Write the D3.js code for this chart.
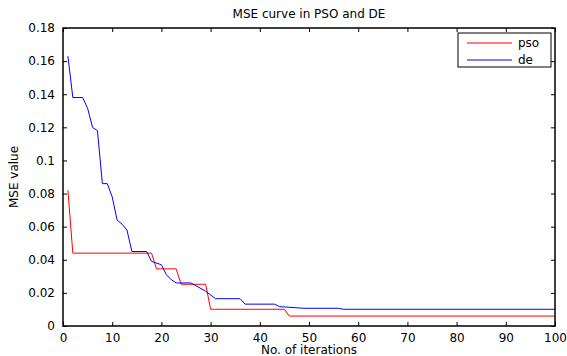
<!DOCTYPE html>
<html>
<head>
<meta charset="utf-8">
<script src="https://cdn.jsdelivr.net/npm/d3@7"></script>
<style>
  body { margin: 0; background: #fff; }
  svg text { font-family: "DejaVu Sans", sans-serif; fill: #000; }
</style>
</head>
<body>
<svg id="chart" width="567" height="356"></svg>
<script>
// breakpoints
var psoIter = [1, 2, 18, 19, 23, 24, 29, 30, 45, 46, 100];
var psoMse = [0.082, 0.044, 0.044, 0.0345, 0.0345, 0.0252, 0.0252, 0.0101, 0.0101, 0.006, 0.006];

var deIter = [1, 2, 4, 5, 6, 7, 8, 9, 10, 11, 12, 13, 14, 17, 18, 20, 21, 22, 23, 26, 29, 31, 36, 37, 43, 44, 49, 56, 57, 100];
var deMse = [0.163, 0.138, 0.138, 0.1315, 0.12, 0.118, 0.086, 0.086, 0.078, 0.064, 0.0615, 0.058, 0.045, 0.045, 0.039, 0.037, 0.031, 0.028, 0.026, 0.026, 0.021, 0.0165, 0.0165, 0.0132, 0.0132, 0.0117, 0.0107, 0.0107, 0.0101, 0.0101];

var xTicks = [0, 10, 20, 30, 40, 50, 60, 70, 80, 90, 100];
var yTicks = [0, 0.02, 0.04, 0.06, 0.08, 0.1, 0.12, 0.14, 0.16, 0.18];

var series = [
  { name: "pso", color: "#ff0000", values: psoIter.map((d, i) => ({ it: d, v: psoMse[i] })) },
  { name: "de", color: "#0000ff", values: deIter.map((d, i) => ({ it: d, v: deMse[i] })) }
];

var svg = d3.select("#chart"),
  margin = { top: 28, right: 12, bottom: 30, left: 63 },
  width = +svg.attr("width"),
  height = +svg.attr("height");

var x = d3.scaleLinear().domain([0, 100]).range([margin.left, width - margin.right]);
var y = d3.scaleLinear().domain([0, 0.18]).range([height - margin.bottom, margin.top]);

var fmtY = d => d === 0 ? "0" : String(+d.toFixed(2));

// ticks inside on all 4 sides, matlab style
svg.append("g")
  .attr("transform", "translate(0," + y(0) + ")")
  .call(d3.axisBottom(x).tickValues(xTicks).tickSize(-4).tickPadding(7).tickFormat(d3.format("d")))
  .call(g => g.select(".domain").remove());
svg.append("g")
  .attr("transform", "translate(0," + y(0.18) + ")")
  .call(d3.axisTop(x).tickValues(xTicks).tickSize(-4).tickFormat(""))
  .call(g => g.select(".domain").remove());
svg.append("g")
  .attr("transform", "translate(" + x(0) + ",0)")
  .call(d3.axisLeft(y).tickValues(yTicks).tickSize(-4).tickPadding(8).tickFormat(fmtY))
  .call(g => g.select(".domain").remove());
svg.append("g")
  .attr("transform", "translate(" + x(100) + ",0)")
  .call(d3.axisRight(y).tickValues(yTicks).tickSize(-4).tickFormat(""))
  .call(g => g.select(".domain").remove());

svg.selectAll(".tick text").attr("font-size", 12).style("font-family", "'DejaVu Sans', sans-serif");
svg.selectAll(".tick line").attr("stroke", "#000");

var line = d3.line().x(d => x(d.it)).y(d => y(d.v));

svg.selectAll(".curve")
  .data(series)
  .enter().append("path")
  .attr("class", "curve")
  .attr("fill", "none")
  .attr("stroke", d => d.color)
  .attr("stroke-width", 1)
  .attr("d", d => line(d.values));

// box
svg.append("rect")
  .attr("x", x(0)).attr("y", y(0.18))
  .attr("width", x(100) - x(0)).attr("height", y(0) - y(0.18))
  .attr("fill", "none").attr("stroke", "#000").attr("stroke-width", 1.5);

// titles
svg.append("text").attr("x", (x(0) + x(100)) / 2).attr("y", 18)
  .attr("text-anchor", "middle").attr("font-size", 12).text("MSE curve in PSO and DE");
svg.append("text").attr("x", (x(0) + x(100)) / 2).attr("y", 354)
  .attr("text-anchor", "middle").attr("font-size", 12).text("No. of iterations");
svg.append("text")
  .attr("transform", "translate(18," + (y(0) + y(0.18)) / 2 + ") rotate(-90)")
  .attr("text-anchor", "middle").attr("font-size", 12).text("MSE value");

// legend
var leg = svg.append("g").attr("transform", "translate(458,33)");
leg.append("rect").attr("width", 93).attr("height", 34)
  .attr("fill", "#fff").attr("stroke", "#000").attr("stroke-width", 1);
series.forEach(function (s, i) {
  leg.append("line").attr("x1", 9).attr("x2", 54)
    .attr("y1", 10 + i * 17).attr("y2", 10 + i * 17)
    .attr("stroke", s.color).attr("stroke-width", 1);
  leg.append("text").attr("x", 60).attr("y", 10 + i * 17).attr("dy", "0.35em")
    .attr("font-size", 12).text(s.name);
});
</script>
</body>
</html>
